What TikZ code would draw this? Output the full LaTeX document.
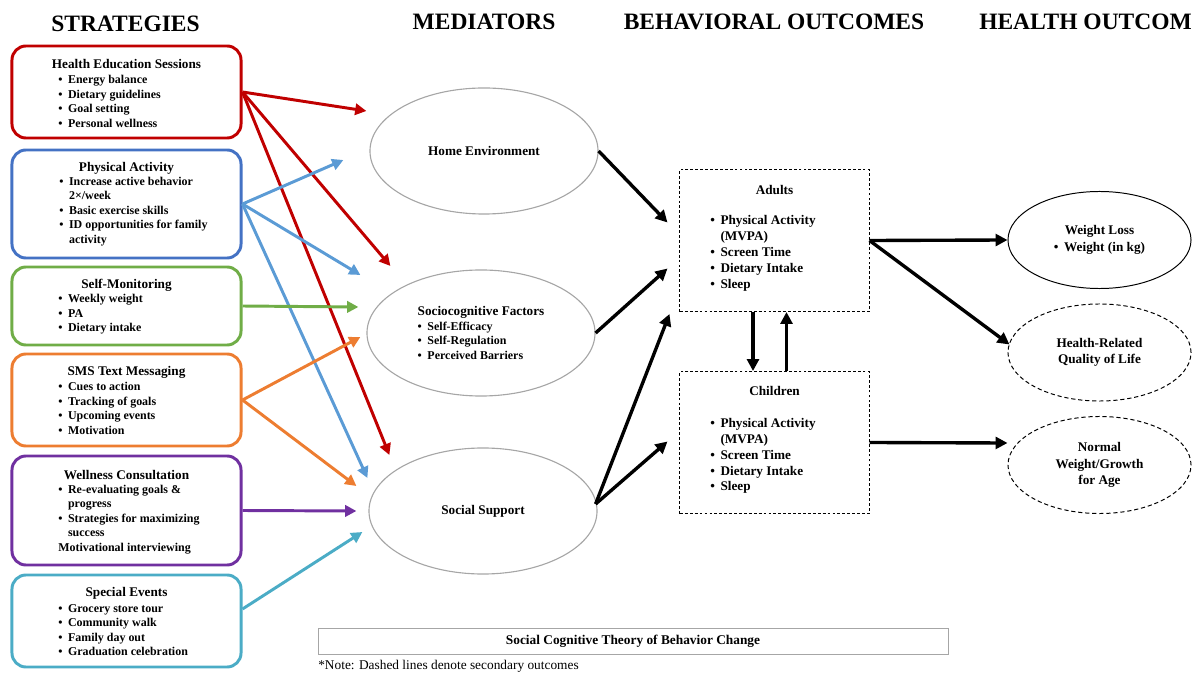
\documentclass[tikz,border=0pt]{standalone}
\usepackage{fontspec}
\setmainfont{Liberation Serif}
\usetikzlibrary{arrows.meta,positioning,shapes.geometric}

\definecolor{hesred}{HTML}{C00000}
\definecolor{pablue}{HTML}{4472C4}
\definecolor{palight}{HTML}{5B9BD5}
\definecolor{smgreen}{HTML}{70AD47}
\definecolor{smsorange}{HTML}{ED7D31}
\definecolor{wcpurple}{HTML}{7030A0}
\definecolor{seteal}{HTML}{4BACC6}
\definecolor{ellgray}{HTML}{A6A6A6}

\newcommand{\bul}{\textbullet\hspace{4pt}}
\newcommand{\bulind}{\hphantom{\textbullet\hspace{4pt}}}

\begin{document}
\begin{tikzpicture}[x=0.025cm, y=-0.025cm, font=\bfseries,
  colhead/.style={font=\fontsize{16.7}{19}\selectfont\bfseries, inner sep=0pt},
  strat/.style={draw=#1, line width=2.1pt, rounded corners=0.35cm, minimum width=5.725cm, inner sep=0pt},
  shead/.style={font=\fontsize{9.4}{11}\selectfont\bfseries, inner sep=0pt},
  slist/.style={font=\fontsize{8.5}{10.3}\selectfont\bfseries, align=left, anchor=west, inner sep=0pt},
  med/.style={ellipse, draw=ellgray, line width=0.8pt, minimum width=5.7cm, minimum height=3.15cm, inner sep=0pt, font=\fontsize{9.4}{11}\selectfont\bfseries},
  behbox/.style={draw, dash pattern=on 2pt off 1.5pt, line width=0.7pt, minimum width=4.725cm, minimum height=3.55cm},
  blist/.style={font=\fontsize{9.4}{11.3}\selectfont\bfseries, align=left, anchor=west, inner sep=0pt},
  outc/.style={ellipse, draw, line width=0.7pt, minimum width=4.575cm, minimum height=2.425cm, inner sep=0pt, align=center, font=\fontsize{9.4}{11.8}\selectfont\bfseries},
  arr/.style={line width=2.1pt, -{Triangle[length=8pt,width=8pt]}},
  barr/.style={line width=2.4pt, -{Triangle[length=8.5pt,width=8.5pt]}}]
  \useasboundingbox (0,0) rectangle (1192,675);
  \clip (0,0) rectangle (1192,675);

  % column headings
  \node[colhead] (tstrat) at (125.5,24) {STRATEGIES};
  \node[colhead] (tmed) at (484,22) {MEDIATORS};
  \node[colhead] (tbeh) at (774,22) {BEHAVIORAL OUTCOMES};
  \node[colhead, anchor=west] (thealth) at (979,22) {HEALTH OUTCOMES};

  % strategies
  \node[strat=hesred, minimum height=2.3cm] (hes) at (126.5,92) {};
  \node[shead] (hesh) at (126.5,64) {Health Education Sessions};
  \node[slist] (hesl) at (58,101.5) {\bul Energy balance\\ \bul Dietary guidelines\\ \bul Goal setting\\ \bul Personal wellness};

  \node[strat=pablue, minimum height=2.7cm] (pa) at (126.5,204) {};
  \node[shead] (pah) at (126.5,168) {Physical Activity};
  \node[slist] (pal) at (59,211.5) {\bul Increase active behavior\\ \bulind 2×/week\\ \bul Basic exercise skills\\ \bul ID opportunities for family\\ \bulind activity};

  \node[strat=smgreen, minimum height=1.95cm] (sm) at (126.5,306) {};
  \node[shead] (smh) at (126.5,285) {Self-Monitoring};
  \node[slist] (sml) at (58,314.5) {\bul Weekly weight\\ \bul PA\\ \bul Dietary intake};

  \node[strat=smsorange, minimum height=2.3cm] (sms) at (126.5,400) {};
  \node[shead] (smsh) at (126.5,372) {SMS Text Messaging};
  \node[slist] (smsl) at (58,408.5) {\bul Cues to action\\ \bul Tracking of goals\\ \bul Upcoming events\\ \bul Motivation};

  \node[strat=wcpurple, minimum height=2.725cm] (wc) at (126.5,510.5) {};
  \node[shead] (wch) at (126.5,475) {Wellness Consultation};
  \node[slist] (wcl) at (58,519.5) {\bul Re-evaluating goals \&\\ \bulind progress\\ \bul Strategies for maximizing\\ \bulind success\\ Motivational interviewing};

  \node[strat=seteal, minimum height=2.3cm] (se) at (126.5,621) {};
  \node[shead] (seh) at (126.5,593) {Special Events};
  \node[slist] (sel) at (58,630) {\bul Grocery store tour\\ \bul Community walk\\ \bul Family day out\\ \bul Graduation celebration};

  % mediators
  \node[med] (home) at (484,151) {Home Environment};
  \node[med, align=left, font=\fontsize{8.5}{10.4}\selectfont\bfseries] (socio) at (481,333) {{\fontsize{9.4}{10.4}\selectfont Sociocognitive Factors}\\ \bul Self-Efficacy\\ \bul Self-Regulation\\ \bul Perceived Barriers};
  \node[med] (supp) at (483,511) {Social Support};

  % behavioral outcomes
  \node[behbox] (adults) at (774.5,240.5) {};
  \node[shead] (adultsh) at (774.5,190) {Adults};
  \node[blist] (adultsl) at (710,253.5) {\bul Physical Activity\\ \bulind (MVPA)\\ \bul Screen Time\\ \bul Dietary Intake\\ \bul Sleep};
  \node[behbox] (children) at (774.5,442.5) {};
  \node[shead] (childrenh) at (774.5,391) {Children};
  \node[blist] (childrenl) at (710,456) {\bul Physical Activity\\ \bulind (MVPA)\\ \bul Screen Time\\ \bul Dietary Intake\\ \bul Sleep};

  % health outcomes
  \node[outc] (wl) at (1099.5,240) {Weight Loss\\ \bul Weight (in kg)};
  \node[outc, dash pattern=on 3pt off 2pt] (hrq) at (1099.5,352.5) {Health-Related\\ Quality of Life};
  \node[outc, dash pattern=on 3pt off 2pt] (nw) at (1099.5,465) {Normal\\ Weight/Growth\\ for Age};

  \node[draw=ellgray, line width=0.6pt, minimum width=15.75cm, minimum height=0.65cm, font=\fontsize{9.5}{11}\selectfont\bfseries] (sct) at (633,641) {Social Cognitive Theory of Behavior Change};
  \node[anchor=west, inner sep=0pt, font=\fontsize{9.5}{11}\selectfont\mdseries] (note) at (318,666) {*Note: Dashed lines denote secondary outcomes};

  % strategy arrows
  \draw[arr, hesred] (hes.east) -- ([shift={(-3,-40)}]home.west);
  \draw[arr, hesred] (hes.east) -- ([shift={(24,-67)}]socio.west);
  \draw[arr, hesred] (hes.east) -- ([shift={(21,-56)}]supp.west);
  \draw[arr, palight] (pa.east) -- ([shift={(-26,9)}]home.west);
  \draw[arr, palight] (pa.east) -- ([shift={(-6,-58)}]socio.west);
  \draw[arr, palight] (pa.east) -- ([shift={(-1,-33)}]supp.west);
  \draw[arr, smgreen] (sm.east) -- ([shift={(-8,-26)}]socio.west);
  \draw[arr, smsorange] (sms.east) -- ([shift={(-6,4)}]socio.west);
  \draw[arr, smsorange] (sms.east) -- ([shift={(-12,-25)}]supp.west);
  \draw[arr, wcpurple] (wc.east) -- ([shift={(-12,0)}]supp.west);
  \draw[arr, seteal] ([shift={(0,-12)}]se.east) -- ([shift={(-6,21)}]supp.west);

  % mediator and outcome arrows
  \draw[barr] (home.east) -- ([shift={(-12,-18)}]adults.west);
  \draw[barr] (socio.east) -- ([shift={(-12,28)}]adults.west);
  \draw[barr] ([shift={(-2,-7)}]supp.east) -- ([shift={(-10,2)}]adults.south west);
  \draw[barr] ([shift={(-2,-7)}]supp.east) -- ([shift={(-12,-1)}]children.west);
  \draw[barr] ([shift={(-21.5,0)}]adults.south) -- ([shift={(-21.5,0)}]children.north);
  \draw[barr] ([shift={(12,0)}]children.north) -- ([shift={(12,0)}]adults.south);
  \draw[barr] (adults.east) -- (wl.west);
  \draw[barr] (adults.east) -- ([shift={(2,-8)}]hrq.west);
  \draw[barr] (children.east) -- ([shift={(0,-22)}]nw.west);
\end{tikzpicture}
\end{document}
